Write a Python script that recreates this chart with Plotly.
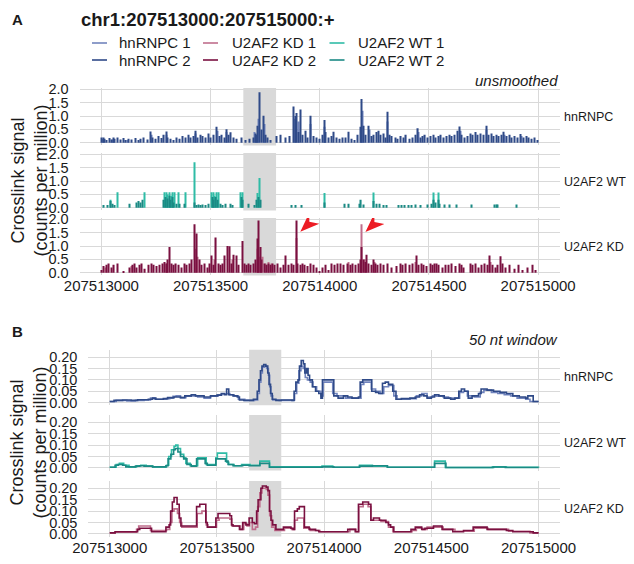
import plotly.graph_objects as go

BASE = 207513000
PAGE_W, PAGE_H = 634, 564
OFF = 8                      # browser body margin around the figure
W, H = PAGE_W - 2 * OFF, PAGE_H - 2 * OFF

# ---------------- data: offsets (nt from 207513000) and signal (CPM) ----------------
# Panel A, unsmoothed crosslink signal
hnrnpc1_raw = [(5, 0.15), (50, 0.12), (120, 0.1), (230, 0.3), (300, 0.3), (432, 0.35), (530, 0.45),
               (575, 0.4), (700, 0.4), (720, 0.9), (745, 0.7), (883, 0.9), (905, 0.8), (960, 0.7),
               (1022, 0.6), (1195, 1.2), (1226, 0.5), (1312, 0.8), (1452, 0.4), (1645, 0.45),
               (1765, 0.5), (1845, 0.3), (1922, 0.25)]
hnrnpc2_raw = [(0, 0.2), (8, 0.2), (15, 0.15), (25, 0.1), (38, 0.18), (45, 0.12), (55, 0.2), (62, 0.15),
               (75, 0.2), (90, 0.12), (100, 0.18), (112, 0.1), (125, 0.15), (140, 0.12), (155, 0.18),
               (170, 0.1), (180, 0.15), (195, 0.2), (210, 0.12), (226, 0.42), (235, 0.2), (250, 0.15),
               (262, 0.25), (275, 0.18), (287, 0.3), (297, 0.42), (305, 0.2), (318, 0.15), (330, 0.1),
               (345, 0.2), (358, 0.15), (370, 0.25), (385, 0.2), (398, 0.3), (410, 0.2), (420, 0.25),
               (430, 0.45), (442, 0.2), (455, 0.3), (465, 0.25), (478, 0.2), (490, 0.35), (500, 0.2),
               (512, 0.3), (528, 0.6), (540, 0.25), (552, 0.3), (562, 0.2), (573, 0.51), (583, 0.3),
               (593, 0.39), (605, 0.2), (618, 0.15), (640, 0.2), (660, 0.1), (680, 0.15), (695, 0.2),
               (705, 0.35), (710, 0.3), (716, 0.64), (725, 1.89), (733, 0.5), (741, 1.01), (750, 0.3),
               (760, 0.2), (775, 0.1), (800, 0.25), (822, 0.3), (845, 0.2), (862, 0.25), (880, 1.36),
               (887, 1.0), (895, 1.11), (902, 0.4), (910, 1.24), (920, 0.3), (935, 0.45), (945, 0.2),
               (958, 1.01), (970, 0.25), (985, 0.2), (1000, 0.15), (1012, 0.3), (1020, 0.85), (1028, 0.4),
               (1040, 0.2), (1052, 0.25), (1065, 0.41), (1078, 0.2), (1090, 0.15), (1105, 0.2),
               (1118, 0.2), (1133, 0.41), (1145, 0.15), (1160, 0.1), (1175, 0.3), (1185, 0.6),
               (1193, 1.64), (1200, 0.64), (1210, 0.3), (1224, 0.64), (1235, 0.25), (1248, 0.3),
               (1258, 0.4), (1267, 0.45), (1278, 0.3), (1290, 0.35), (1300, 0.2), (1310, 1.16),
               (1318, 0.3), (1330, 0.25), (1345, 0.2), (1358, 0.15), (1372, 0.25), (1385, 0.2),
               (1395, 0.3), (1410, 0.15), (1425, 0.2), (1440, 0.3), (1450, 0.54), (1460, 0.2),
               (1470, 0.25), (1482, 0.3), (1495, 0.2), (1508, 0.25), (1520, 0.3), (1532, 0.2),
               (1545, 0.25), (1555, 0.3), (1568, 0.2), (1580, 0.25), (1592, 0.3), (1605, 0.25),
               (1618, 0.3), (1630, 0.45), (1642, 0.61), (1650, 0.3), (1662, 0.2), (1675, 0.25),
               (1690, 0.35), (1700, 0.3), (1712, 0.4), (1722, 0.3), (1735, 0.35), (1748, 0.3),
               (1763, 0.64), (1772, 0.3), (1785, 0.35), (1795, 0.25), (1808, 0.3), (1820, 0.25),
               (1832, 0.3), (1843, 0.41), (1855, 0.25), (1868, 0.3), (1880, 0.2), (1893, 0.25),
               (1905, 0.2), (1920, 0.33), (1932, 0.2), (1945, 0.25), (1958, 0.2), (1970, 0.15),
               (1985, 0.2), (1995, 0.1)]
wt1_raw = [(41, 0.3), (75, 0.58), (196, 0.58), (290, 0.58), (298, 0.58), (305, 0.5), (312, 0.58),
           (320, 0.45), (327, 0.58), (335, 0.58), (354, 0.58), (384, 0.58), (427, 1.7), (505, 0.58),
           (512, 0.58), (520, 0.45), (528, 0.58), (535, 0.58), (637, 0.58), (648, 0.58), (716, 0.55),
           (723, 1.11), (1021, 0.55), (1247, 0.57), (1523, 0.57), (1543, 0.57)]
wt2_raw = [(10, 0.1), (30, 0.1), (41, 0.25), (50, 0.15), (60, 0.1), (130, 0.15), (160, 0.2), (170, 0.25),
           (180, 0.2), (190, 0.3), (285, 0.3), (295, 0.4), (302, 0.35), (310, 0.45), (318, 0.3),
           (325, 0.4), (332, 0.2), (345, 0.15), (360, 0.15), (380, 0.15), (427, 0.2), (435, 0.1),
           (445, 0.12), (455, 0.1), (465, 0.12), (475, 0.1), (490, 0.15), (508, 0.4), (515, 0.3),
           (525, 0.4), (533, 0.3), (545, 0.15), (555, 0.1), (570, 0.15), (590, 0.15), (600, 0.1),
           (640, 0.4), (645, 0.3), (675, 0.15), (700, 0.1), (712, 0.3), (720, 0.4), (728, 0.3),
           (870, 0.1), (890, 0.1), (915, 0.1), (1021, 0.2), (1113, 0.15), (1131, 0.15), (1180, 0.15),
           (1189, 0.3), (1200, 0.12), (1247, 0.25), (1260, 0.15), (1275, 0.15), (1290, 0.1),
           (1305, 0.1), (1360, 0.1), (1375, 0.1), (1390, 0.1), (1405, 0.1), (1420, 0.1), (1440, 0.12),
           (1460, 0.1), (1495, 0.12), (1510, 0.15), (1523, 0.3), (1530, 0.2), (1543, 0.3), (1550, 0.15),
           (1570, 0.12), (1595, 0.12), (1625, 0.12), (1695, 0.12), (1800, 0.12), (1808, 0.12),
           (1815, 0.12), (1900, 0.12)]
kd1_raw = [(20, 0.2), (140, 0.25), (300, 0.35), (430, 0.9), (442, 0.6), (520, 0.5), (600, 0.5),
           (715, 0.9), (725, 0.6), (740, 0.6), (750, 0.35), (765, 0.4), (780, 0.35), (895, 1.3),
           (1130, 0.4), (1193, 1.81), (1205, 0.5), (1250, 0.4), (1440, 0.4), (1780, 0.4)]
kd2_raw = [(0, 0.1), (10, 0.25), (22, 0.3), (35, 0.35), (45, 0.2), (58, 0.3), (75, 0.35), (100, 0.05),
           (130, 0.2), (142, 0.3), (150, 0.35), (160, 0.2), (175, 0.3), (186, 0.35), (200, 0.15),
           (215, 0.3), (228, 0.35), (240, 0.3), (252, 0.25), (265, 0.3), (280, 0.35), (290, 0.4),
           (298, 0.35), (305, 0.5), (313, 0.96), (320, 0.35), (330, 0.3), (342, 0.35), (355, 0.3),
           (368, 0.2), (380, 0.35), (392, 0.3), (405, 0.35), (415, 0.5), (427, 1.81), (438, 1.47),
           (448, 0.5), (460, 0.3), (472, 0.35), (485, 0.2), (495, 0.35), (505, 0.65), (515, 0.3),
           (525, 1.32), (535, 0.35), (545, 0.3), (555, 0.35), (563, 0.65), (576, 1.0), (588, 0.99),
           (595, 0.35), (606, 0.67), (618, 0.65), (628, 0.3), (646, 1.19), (655, 0.35), (665, 0.3),
           (675, 0.35), (685, 0.3), (695, 0.35), (705, 0.5), (713, 1.28), (721, 1.95), (728, 0.96),
           (735, 0.5), (745, 0.35), (755, 0.3), (765, 0.35), (775, 0.3), (785, 0.35), (795, 0.3),
           (805, 0.35), (820, 0.2), (833, 0.3), (845, 0.65), (858, 0.3), (870, 0.35), (880, 0.3),
           (892, 1.95), (900, 0.35), (910, 0.3), (920, 0.35), (932, 0.3), (945, 0.25), (958, 0.35),
           (970, 0.3), (985, 0.2), (1000, 0.05), (1012, 0.2), (1025, 0.3), (1040, 0.1), (1055, 0.35),
           (1068, 0.3), (1080, 0.35), (1095, 0.35), (1110, 0.3), (1125, 0.35), (1140, 0.3),
           (1152, 0.35), (1165, 0.3), (1178, 0.35), (1186, 0.5), (1193, 0.96), (1200, 0.5),
           (1208, 0.4), (1215, 0.67), (1225, 0.35), (1235, 0.3), (1247, 0.5), (1255, 0.35),
           (1265, 0.3), (1280, 0.35), (1292, 0.3), (1310, 0.35), (1330, 0.2), (1352, 0.25),
           (1368, 0.35), (1380, 0.3), (1395, 0.35), (1410, 0.3), (1425, 0.35), (1441, 0.65),
           (1452, 0.3), (1465, 0.35), (1475, 0.3), (1490, 0.25), (1505, 0.35), (1515, 0.3),
           (1525, 0.35), (1535, 0.35), (1545, 0.3), (1560, 0.2), (1575, 0.3), (1590, 0.3),
           (1605, 0.35), (1620, 0.25), (1638, 0.35), (1648, 0.3), (1660, 0.2), (1690, 0.35),
           (1700, 0.3), (1712, 0.35), (1725, 0.2), (1740, 0.3), (1755, 0.35), (1768, 0.3),
           (1779, 0.65), (1790, 0.3), (1805, 0.2), (1815, 0.3), (1826, 0.62), (1838, 0.35),
           (1850, 0.2), (1870, 0.3), (1890, 0.15), (1910, 0.3), (1930, 0.1), (1950, 0.2),
           (1972, 0.3), (1990, 0.1)]

# Panel B, 50 nt window smoothed signal (step breakpoints)
hnrnpc1_sm = [(0, 0.005), (30, 0.01), (80, 0.008), (120, 0.01), (160, 0.012), (190, 0.02), (210, 0.015),
              (240, 0.015), (265, 0.018), (280, 0.02), (295, 0.028), (310, 0.03), (330, 0.022),
              (355, 0.028), (380, 0.03), (410, 0.025), (440, 0.02), (470, 0.028), (505, 0.035),
              (525, 0.038), (545, 0.04), (560, 0.035), (580, 0.03), (600, 0.015), (630, 0.01),
              (675, 0.012), (690, 0.04), (698, 0.09), (705, 0.13), (712, 0.155), (722, 0.16),
              (732, 0.15), (740, 0.12), (746, 0.07), (752, 0.03), (760, 0.012), (790, 0.01),
              (855, 0.012), (862, 0.04), (872, 0.085), (882, 0.14), (892, 0.16), (902, 0.15),
              (912, 0.11), (922, 0.1), (935, 0.09), (948, 0.07), (965, 0.05), (985, 0.03), (995, 0.09),
              (1040, 0.04), (1060, 0.03), (1100, 0.02), (1165, 0.02), (1172, 0.08), (1185, 0.09),
              (1220, 0.06), (1240, 0.05), (1262, 0.04), (1278, 0.07), (1300, 0.075), (1325, 0.03),
              (1340, 0.015), (1400, 0.018), (1430, 0.03), (1455, 0.04), (1480, 0.025), (1505, 0.03),
              (1525, 0.028), (1555, 0.025), (1580, 0.02), (1615, 0.02), (1632, 0.045), (1650, 0.05),
              (1668, 0.03), (1700, 0.025), (1728, 0.045), (1745, 0.055), (1780, 0.045), (1810, 0.04),
              (1840, 0.035), (1870, 0.03), (1900, 0.02), (1940, 0.015), (1960, 0.005), (2000, 0.005)]
hnrnpc2_sm = [(0, 0.005), (20, 0.01), (60, 0.012), (100, 0.01), (130, 0.013), (180, 0.015), (200, 0.02),
              (215, 0.015), (250, 0.018), (270, 0.022), (300, 0.025), (330, 0.022), (350, 0.03),
              (380, 0.035), (400, 0.03), (440, 0.025), (470, 0.03), (500, 0.033), (520, 0.04),
              (535, 0.035), (545, 0.06), (555, 0.035), (575, 0.03), (595, 0.025), (605, 0.012),
              (625, 0.01), (670, 0.015), (688, 0.05), (696, 0.1), (703, 0.14), (710, 0.16),
              (718, 0.167), (728, 0.16), (737, 0.13), (743, 0.08), (750, 0.04), (758, 0.015),
              (775, 0.01), (800, 0.012), (850, 0.01), (860, 0.05), (868, 0.09), (878, 0.1),
              (885, 0.16), (893, 0.185), (903, 0.17), (910, 0.13), (918, 0.15), (925, 0.12),
              (932, 0.1), (945, 0.07), (960, 0.05), (975, 0.04), (985, 0.02), (992, 0.1), (1045, 0.03),
              (1065, 0.02), (1090, 0.03), (1110, 0.025), (1130, 0.02), (1160, 0.025), (1168, 0.09),
              (1180, 0.1), (1222, 0.05), (1240, 0.045), (1255, 0.04), (1272, 0.085), (1285, 0.09),
              (1300, 0.08), (1320, 0.05), (1335, 0.015), (1360, 0.018), (1400, 0.02), (1425, 0.025),
              (1445, 0.035), (1465, 0.03), (1480, 0.02), (1500, 0.025), (1515, 0.035), (1535, 0.03),
              (1560, 0.02), (1590, 0.015), (1610, 0.02), (1628, 0.05), (1640, 0.06), (1655, 0.05),
              (1672, 0.02), (1690, 0.03), (1720, 0.04), (1732, 0.06), (1760, 0.055), (1790, 0.05),
              (1820, 0.045), (1850, 0.04), (1880, 0.03), (1910, 0.025), (1940, 0.02), (1950, 0.03),
              (1975, 0.005), (2000, 0.005)]
wt1_sm = [(0, 0.003), (30, 0.015), (45, 0.02), (65, 0.012), (90, 0.005), (125, 0.01), (145, 0.012),
          (170, 0.008), (200, 0.005), (265, 0.012), (275, 0.05), (288, 0.08), (300, 0.095), (308, 0.1),
          (318, 0.085), (330, 0.06), (345, 0.045), (355, 0.02), (375, 0.01), (410, 0.045), (440, 0.045),
          (450, 0.015), (490, 0.015), (495, 0.045), (502, 0.065), (545, 0.025), (555, 0.015),
          (580, 0.01), (615, 0.015), (655, 0.012), (695, 0.012), (700, 0.03), (745, 0.005),
          (990, 0.008), (1040, 0.003), (1165, 0.012), (1225, 0.008), (1295, 0.003), (1510, 0.003),
          (1515, 0.03), (1565, 0.002), (1785, 0.005), (1850, 0.003), (2000, 0.002)]
wt2_sm = [(0, 0.003), (25, 0.012), (40, 0.015), (60, 0.012), (75, 0.005), (120, 0.008), (140, 0.01),
          (160, 0.008), (200, 0.005), (262, 0.01), (272, 0.04), (285, 0.06), (298, 0.08), (306, 0.085),
          (318, 0.07), (330, 0.05), (345, 0.04), (360, 0.015), (380, 0.008), (405, 0.04), (445, 0.02),
          (455, 0.012), (490, 0.012), (495, 0.04), (540, 0.03), (552, 0.015), (575, 0.01),
          (620, 0.012), (650, 0.01), (690, 0.01), (700, 0.02), (745, 0.003), (990, 0.005),
          (1045, 0.003), (1165, 0.008), (1225, 0.01), (1295, 0.003), (1510, 0.003), (1515, 0.02),
          (1568, 0.002), (1790, 0.004), (1845, 0.002), (2000, 0.002)]
kd1_sm = [(0, 0.005), (25, 0.008), (125, 0.02), (135, 0.035), (190, 0.015), (265, 0.02), (280, 0.05),
          (290, 0.1), (300, 0.11), (316, 0.09), (326, 0.05), (336, 0.03), (402, 0.03), (408, 0.09),
          (430, 0.1), (450, 0.04), (458, 0.03), (498, 0.06), (510, 0.07), (560, 0.065), (570, 0.035),
          (610, 0.02), (625, 0.045), (640, 0.035), (652, 0.05), (665, 0.02), (680, 0.03), (690, 0.12),
          (700, 0.18), (710, 0.2), (730, 0.195), (738, 0.17), (746, 0.08), (755, 0.03), (770, 0.015),
          (815, 0.025), (848, 0.02), (862, 0.06), (875, 0.07), (905, 0.025), (935, 0.015), (980, 0.01),
          (1120, 0.02), (1150, 0.01), (1162, 0.12), (1182, 0.13), (1205, 0.12), (1218, 0.06),
          (1235, 0.06), (1265, 0.055), (1300, 0.03), (1320, 0.01), (1410, 0.015), (1430, 0.025),
          (1460, 0.02), (1480, 0.03), (1515, 0.03), (1555, 0.02), (1610, 0.012), (1700, 0.025),
          (1765, 0.02), (1860, 0.012), (1960, 0.005), (2000, 0.005)]
kd2_sm = [(0, 0.005), (25, 0.01), (130, 0.02), (140, 0.025), (195, 0.01), (262, 0.03), (277, 0.04),
          (284, 0.1), (292, 0.14), (300, 0.16), (314, 0.13), (324, 0.07), (332, 0.035), (400, 0.035),
          (405, 0.12), (420, 0.13), (448, 0.05), (455, 0.03), (495, 0.07), (505, 0.09), (560, 0.08),
          (568, 0.04), (575, 0.035), (605, 0.02), (620, 0.05), (635, 0.04), (650, 0.07), (665, 0.05),
          (675, 0.045), (685, 0.1), (692, 0.15), (705, 0.2), (712, 0.21), (730, 0.205), (738, 0.19),
          (745, 0.1), (752, 0.06), (760, 0.04), (775, 0.02), (810, 0.03), (845, 0.025), (855, 0.02),
          (862, 0.1), (875, 0.11), (884, 0.12), (908, 0.03), (930, 0.02), (960, 0.015), (975, 0.01),
          (1110, 0.02), (1145, 0.01), (1160, 0.13), (1180, 0.14), (1207, 0.13), (1218, 0.06),
          (1230, 0.07), (1258, 0.06), (1288, 0.05), (1300, 0.04), (1310, 0.03), (1325, 0.01),
          (1405, 0.02), (1425, 0.03), (1455, 0.02), (1470, 0.025), (1510, 0.035), (1550, 0.02),
          (1600, 0.01), (1650, 0.015), (1695, 0.03), (1760, 0.02), (1850, 0.015), (1880, 0.01),
          (1975, 0.005), (2000, 0.005)]

highlight = (650, 800)          # shaded region (offsets)
arrow_targets = [(911, 1.535), (1209, 1.52)]   # arrow tips (offset, CPM) in U2AF2 KD panel A
x_ticks = [0, 500, 1000, 1500, 2000]
yA_ticks = [0, 0.5, 1.0, 1.5, 2.0]
yB_ticks = [0, 0.05, 0.10, 0.15, 0.20]
facets = ["hnRNPC", "U2AF2 WT", "U2AF2 KD"]
colors = {"hnRNPC 1": "#7184bd", "hnRNPC 2": "#2f4a88",
          "U2AF2 WT 1": "#2fbca6", "U2AF2 WT 2": "#1b8a84",
          "U2AF2 KD 1": "#bf6e8c", "U2AF2 KD 2": "#7a1040"}

# ---------------- layout geometry (window pixels) ----------------
FONT = "Liberation Sans, Arial, sans-serif"
TXT = "#1a1a1a"
GRID = "#d9d9d9"
RIGHT = 560.0
A_x = (79.5, RIGHT)
B_x = (88.3, RIGHT)
A_rows = [(88.0, 145.4), (153.0, 210.4), (218.0, 275.4)]
BSHIFT = 8.0
B_rows = [(357.7 - BSHIFT, 413.2 - BSHIFT), (423.0 - BSHIFT, 478.5 - BSHIFT), (489.0 - BSHIFT, 544.5 - BSHIFT)]

def px_x(p):
    return (p - OFF) / W

def px_y(p):
    return 1 - (p - OFF) / H

fig = go.Figure()
layout = dict(width=W, height=H, autosize=False, margin=dict(l=0, r=0, t=0, b=0, pad=0),
              paper_bgcolor="white", plot_bgcolor="white", showlegend=False, barmode="overlay",
              font=dict(family=FONT, color=TXT))

raw = {"hnRNPC": (hnrnpc1_raw, hnrnpc2_raw), "U2AF2 WT": (wt1_raw, wt2_raw), "U2AF2 KD": (kd1_raw, kd2_raw)}
sm = {"hnRNPC": (hnrnpc1_sm, hnrnpc2_sm), "U2AF2 WT": (wt1_sm, wt2_sm), "U2AF2 KD": (kd1_sm, kd2_sm)}

shapes = []
annotations = []

for i in range(6):
    k = i + 1
    sect_A = i < 3
    fac = facets[i % 3]
    xdom = A_x if sect_A else B_x
    top, bot = (A_rows if sect_A else B_rows)[i % 3]
    xa = "xaxis" if k == 1 else f"xaxis{k}"
    ya = "yaxis" if k == 1 else f"yaxis{k}"
    xr = "x" if k == 1 else f"x{k}"
    yr = "y" if k == 1 else f"y{k}"
    last = (i % 3) == 2
    layout[xa] = dict(domain=[px_x(xdom[0]), px_x(xdom[1])], anchor=yr, automargin=False,
                      range=[BASE - 100, BASE + 2100], showgrid=True, gridcolor=GRID, gridwidth=1,
                      zeroline=False, showline=False,
                      tickvals=[BASE + t for t in x_ticks], ticktext=[str(BASE + t) for t in x_ticks],
                      showticklabels=last, ticks="", tickfont=dict(size=15, family=FONT, color=TXT))
    if sect_A:
        yt, yrg, ytxt = yA_ticks, [-0.0975, 2.0475], [f"{v:.1f}" for v in yA_ticks]
    else:
        yt, yrg, ytxt = yB_ticks, [-0.011, 0.232], [f"{v:.2f}" for v in yB_ticks]
    layout[ya] = dict(domain=[px_y(bot), px_y(top)], anchor=xr, range=yrg, tickvals=yt, ticktext=ytxt,
                      automargin=False, showgrid=True, gridcolor=GRID, gridwidth=1, zeroline=False,
                      showline=False, ticks="outside", ticklen=7, tickcolor="rgba(0,0,0,0)",
                      tickfont=dict(size=14.5, family=FONT, color=TXT))
    # highlighted region
    shapes.append(dict(type="rect", xref=xr, yref=f"{yr} domain", x0=BASE + highlight[0],
                       x1=BASE + highlight[1], y0=0, y1=1, fillcolor="#d9d9d9", line=dict(width=0),
                       layer="below"))
    n1, n2 = f"{fac} 1", f"{fac} 2"
    if sect_A:
        for nm, d in ((n1, raw[fac][0]), (n2, raw[fac][1])):
            fig.add_trace(go.Bar(x=[BASE + p for p, v in d], y=[v for p, v in d], width=5, name=nm,
                                 marker=dict(color=colors[nm], line=dict(width=0)), xaxis=xr, yaxis=yr))
    else:
        for nm, d in ((n1, sm[fac][0]), (n2, sm[fac][1])):
            fig.add_trace(go.Scatter(x=[BASE + p for p, v in d], y=[v for p, v in d], mode="lines",
                                     line=dict(color=colors[nm], width=1.6, shape="hv"), name=nm,
                                     xaxis=xr, yaxis=yr))
    annotations.append(dict(text=fac, x=px_x(RIGHT + 1.5), y=px_y((top + bot) / 2), xref="paper",
                            yref="paper", xanchor="left", yanchor="middle", showarrow=False,
                            font=dict(size=12.5, family=FONT, color=TXT)))

# red arrowheads in U2AF2 KD (panel A)
for ox, oy in arrow_targets:
    shapes.append(dict(type="path", xref="x3", yref="y3", xsizemode="pixel", ysizemode="pixel",
                       xanchor=BASE + ox, yanchor=oy, path="M0,0 L9,19 L9,10 L19,8 Z",
                       fillcolor="#ec1c24", line=dict(width=0), layer="above"))

# titles & labels
annotations += [
    dict(text="<b>A</b>", x=px_x(9.5), y=px_y(19), xanchor="left", yanchor="middle",
         font=dict(size=15, family=FONT, color=TXT)),
    dict(text="<b>B</b>", x=px_x(9.5), y=px_y(339 - BSHIFT), xanchor="left", yanchor="middle",
         font=dict(size=15, family=FONT, color=TXT)),
    dict(text="<b>chr1:207513000:207515000:+</b>", x=px_x(79), y=px_y(20), xanchor="left",
         yanchor="middle", font=dict(size=18.5, family=FONT, color=TXT)),
    dict(text="<i>unsmoothed</i>", x=px_x(RIGHT), y=px_y(80), xanchor="right", yanchor="middle",
         font=dict(size=15, family=FONT, color=TXT)),
    dict(text="<i>50 nt window</i>", x=px_x(RIGHT), y=px_y(347 - BSHIFT), xanchor="right",
         yanchor="middle", font=dict(size=15, family=FONT, color=TXT)),
    dict(text="Crosslink signal<br>(counts per million)", x=px_x(28.5), y=px_y(181), textangle=-90,
         xanchor="center", yanchor="middle", font=dict(size=18, family=FONT, color=TXT)),
    dict(text="Crosslink signal<br>(counts per million)", x=px_x(28.5), y=px_y(451 - BSHIFT),
         textangle=-90, xanchor="center", yanchor="middle", font=dict(size=18, family=FONT, color=TXT)),
]
for a in annotations:
    a.setdefault("xref", "paper")
    a.setdefault("yref", "paper")
    a.setdefault("showarrow", False)

# legend (3 columns x 2 rows)
legend_cols = [(92, 117, ["hnRNPC 1", "hnRNPC 2"]), (203, 229.5, ["U2AF2 KD 1", "U2AF2 KD 2"]),
               (329.5, 356, ["U2AF2 WT 1", "U2AF2 WT 2"])]
legend_rows = [43, 60]
for lx, tx, names in legend_cols:
    for ry, nm in zip(legend_rows, names):
        shapes.append(dict(type="line", xref="paper", yref="paper", x0=px_x(lx), x1=px_x(lx + 15),
                           y0=px_y(ry), y1=px_y(ry), line=dict(color=colors[nm], width=1.6)))
        annotations.append(dict(text=nm, x=px_x(tx), y=px_y(ry), xref="paper", yref="paper",
                                xanchor="left", yanchor="middle", showarrow=False,
                                font=dict(size=15, family=FONT, color=TXT)))

layout["shapes"] = shapes
layout["annotations"] = annotations
fig.update_layout(**layout)
fig.write_html("out.html")
